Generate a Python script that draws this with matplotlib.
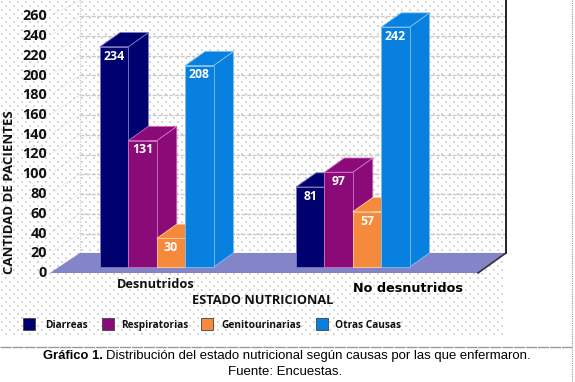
import matplotlib
matplotlib.use('Agg')
import matplotlib.pyplot as plt
import numpy as np
from matplotlib.patches import Rectangle, Polygon

W, H = 575, 382

groups = ['Desnutridos', 'No desnutridos']
causes = ['Diarreas', 'Respiratorias', 'Genitourinarias', 'Otras Causas']
# printed numbers on the bars
labels_des = [234, 131, 30, 208]
labels_no = [81, 97, 57, 242]
# drawn bar heights (not always the printed number)
heights_des = [223, 128, 29, 204]
heights_no = [81, 96, 56, 243]
ticks = list(range(0, 261, 20))

colors = ['#00006e', '#8a0a78', '#f68a3c', '#0880e0']
edges = ['#7878c0', '#d070c0', '#ffd0a0', '#80c0f0']
TEXT = '#111111'
FONT = 'Open Sans'

fig = plt.figure(figsize=(W / 100, H / 100), dpi=100)

# page axes in pixels, for the caption, legend and so on
page = fig.add_axes([0, 0, 1, 1], facecolor='white')
page.set_xlim(0, W)
page.set_ylim(H, 0)
page.axis('off')

# y of the chart axes is in patient units, 0.9875 px per unit, zero at px 273
SCALE = 0.9875
ax = fig.add_axes([0, 0, 1, 1], facecolor='none')
ax.set_xlim(0, W)
ax.set_ylim((273 - H) / SCALE, 273 / SCALE)
ax.axis('off')

# dotted paper
dx, dy = [], []
for i, row in enumerate(range(2, 336, 4)):
    for col in np.arange(2 + 4 * (i % 2), 506, 8):
        dx.append(col)
        dy.append(row)
page.scatter(dx, dy, s=0.6, marker='s', color='#d6d6d6', linewidths=0, zorder=0)

# back wall and floor
wall_x = 80
right_x = 506
front_x = 50
front_right = 478
depth = 20 / SCALE
for t in ticks[1:]:
    ax.plot([wall_x, right_x], [t, t], color='#c9c9c9', lw=1, ls=(0, (3, 1)), zorder=1)
for t in ticks:
    ax.plot([front_x + 3, wall_x], [t + 2, min(t + depth, 276)], color='#d0d0d0', lw=0.7,
            ls=(0, (1, 1.5)), zorder=1)
ax.plot([wall_x, wall_x], [depth, 277], color='#c4c4c4', lw=0.8, ls=(0, (1, 1.5)), zorder=1)
ax.add_patch(Polygon([(front_x, 0), (wall_x, depth), (right_x, depth), (front_right, 0)],
                     closed=True, facecolor='#8484c8', edgecolor='none', zorder=2))
ax.plot([right_x, right_x], [depth, 277], color='#222222', lw=1.4, zorder=2)
ax.plot([right_x, front_right], [depth, 0], color='#333333', lw=1.2, zorder=2)

# bars
group_left = [100, 296]
bar_w = 28.4
base = 6 / SCALE
off_x = 20
off_y = 14.2 / SCALE
z = 3
for left, vals, labs in zip(group_left, [heights_des, heights_no], [labels_des, labels_no]):
    for i in range(4):
        x0 = left + i * bar_w
        x1 = x0 + bar_w
        top = base + vals[i]
        c = colors[i]
        e = edges[i]
        ax.add_patch(Polygon([(x1, base), (x1 + off_x, base + off_y), (x1 + off_x, top + off_y), (x1, top)],
                             closed=True, facecolor=c, edgecolor=e, lw=0.6, zorder=z))
        ax.add_patch(Polygon([(x0, top), (x1, top), (x1 + off_x, top + off_y), (x0 + off_x, top + off_y)],
                             closed=True, facecolor=c, edgecolor=e, lw=0.6, zorder=z))
        ax.add_patch(Rectangle((x0, base), bar_w, vals[i], facecolor=c, edgecolor=e, lw=0.6, zorder=z))
        ax.text(x0 + bar_w / 2, top - 9.5, str(labs[i]), color='white', fontsize=8.8, fontweight='bold',
                family=FONT, ha='center', va='center', zorder=z)
        z += 1

# axis labels
for t in ticks:
    ax.text(47, t, str(t), ha='right', va='center', fontsize=10.4, fontweight='bold', family=FONT,
            color=TEXT, zorder=30)
page.text(10, 192, 'CANTIDAD DE PACIENTES', rotation=90, ha='center', va='center', fontsize=9.5,
          fontweight='bold', family=FONT, color=TEXT)
page.text(263, 301, 'ESTADO NUTRICIONAL', ha='center', va='center', fontsize=9.2, fontweight='bold',
          family=FONT, color=TEXT)
page.text(156, 285, groups[0], ha='center', va='center', fontsize=9.2, fontweight='bold', family=FONT,
          color=TEXT)
page.text(408, 288, groups[1], ha='center', va='center', fontsize=9.2, fontweight='bold',
          family='DejaVu Sans', color='black')

# legend
swatch_x = [23, 102, 201, 316]
legend_x = [45, 121, 221, 335]
for sx, tx, name, c in zip(swatch_x, legend_x, causes, colors):
    page.add_patch(Rectangle((sx, 318), 12, 12, facecolor=c, edgecolor='#444444', lw=0.6))
    page.text(tx, 328, name, ha='left', va='baseline', fontsize=7.3, fontweight='bold', family=FONT, color=TEXT)

# caption
page.plot([0, W - 3], [347, 347], color='#9a9a9a', lw=1, ls=(0, (8, 0.6)))
page.plot([W - 3, W - 3], [0, H], color='#9a9a9a', lw=0.8, ls=(0, (1, 1)))
page.text(43, 359, 'Gráfico 1.', ha='left', va='baseline', fontsize=9.4, fontweight='bold',
          family='Liberation Sans', color='black')
page.text(106, 359, 'Distribución del estado nutricional según causas por las que enfermaron.', ha='left',
          va='baseline', fontsize=9.45, family='Liberation Sans', color='black')
page.text(285, 375, 'Fuente: Encuestas.', ha='center', va='baseline', fontsize=9.5, family='Liberation Sans',
          color='black')

fig.savefig('out.png', dpi=100, facecolor='white')
